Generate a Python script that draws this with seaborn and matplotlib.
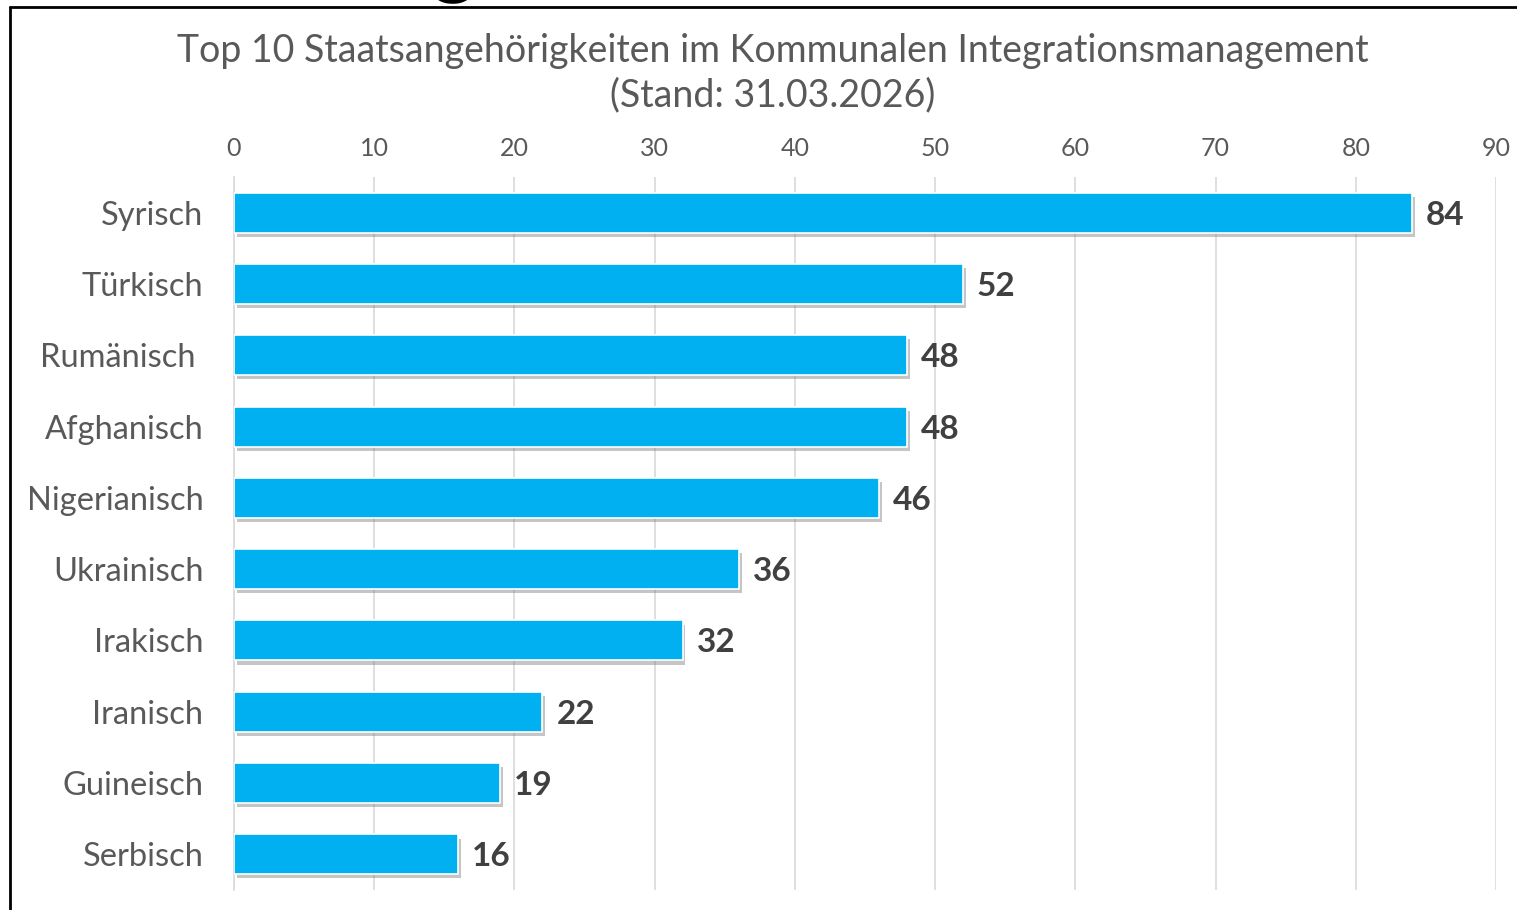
import matplotlib.pyplot as plt
import matplotlib.patheffects as pe
from matplotlib.lines import Line2D
import pandas as pd
import seaborn as sns

# data
nationalities = ["Syrisch", "Türkisch", "Rumänisch ", "Afghanisch", "Nigerianisch",
                 "Ukrainisch", "Irakisch", "Iranisch", "Guineisch", "Serbisch"]
counts = [84, 52, 48, 48, 46, 36, 32, 22, 19, 16]
x_ticks = [0, 10, 20, 30, 40, 50, 60, 70, 80, 90]

title = "Top 10 Staatsangehörigkeiten im Kommunalen Integrationsmanagement\n(Stand: 31.03.2026)"

df = pd.DataFrame({"Staatsangehörigkeit": nationalities, "Anzahl": counts})

sns.set_style("white")
plt.rcParams['font.family'] = ['Lato', 'DejaVu Sans']

BAR_COLOR = '#00B0F0'
TEXT_GRAY = '#595959'
LABEL_DARK = '#404040'
GRID_GRAY = '#D9D9D9'

fig = plt.figure(figsize=(15.17, 9.10), dpi=100)
ax = fig.add_axes([234 / 1517, 1 - 890 / 910, (1496 - 234) / 1517, (890 - 177) / 910])

sns.barplot(data=df, x="Anzahl", y="Staatsangehörigkeit", color=BAR_COLOR,
            saturation=1, width=0.56, orient='h', ax=ax,
            edgecolor='white', linewidth=1.2, zorder=3)

# soft drop shadow under each bar
shadow = [pe.SimplePatchShadow(offset=(2, -3), shadow_rgbFace='#7f7f7f', alpha=0.45),
          pe.Normal()]
for patch in ax.patches:
    patch.set_path_effects(shadow)

value_labels = ax.bar_label(ax.containers[0], labels=[str(v) for v in counts], padding=10,
                            fontsize=24, fontweight='bold', color=LABEL_DARK)
for t in value_labels:
    t.set_va('center_baseline')

ax.set_xlim(0, 90)
ax.set_ylim(9.5, -0.5)
ax.set_xticks(x_ticks)
ax.xaxis.tick_top()
ax.tick_params(axis='x', length=0, pad=12, labelsize=18, labelcolor=TEXT_GRAY)
ax.tick_params(axis='y', length=0, pad=22, labelsize=23.5, labelcolor=TEXT_GRAY)
ax.grid(axis='x', color=GRID_GRAY, linewidth=1.2, zorder=0)
ax.set_axisbelow(True)
ax.set_xlabel("")
ax.set_ylabel("")
for side in ['top', 'right', 'bottom']:
    ax.spines[side].set_visible(False)
ax.spines['left'].set_color(GRID_GRAY)
ax.spines['left'].set_linewidth(1.2)

fig.text(773 / 1517, 1 - 73 / 910, title, ha='center', va='center',
         fontsize=27, color=TEXT_GRAY, linespacing=1.28)

# black frame around the chart (top and left edges visible)
fig.add_artist(Line2D([10 / 1517, 1.0], [1 - 7 / 910, 1 - 7 / 910],
                      transform=fig.transFigure, color='black', linewidth=2))
fig.add_artist(Line2D([10 / 1517, 10 / 1517], [1 - 7 / 910, 0.0],
                      transform=fig.transFigure, color='black', linewidth=2))
# bottom of a heading glyph cut off above the frame, as in the reference
fig.text(454 / 1517, 1 + 12 / 910, "g", ha='center', va='baseline',
         fontsize=60, fontweight='bold', color='black')

fig.savefig('out.png', dpi=100, facecolor='white')
